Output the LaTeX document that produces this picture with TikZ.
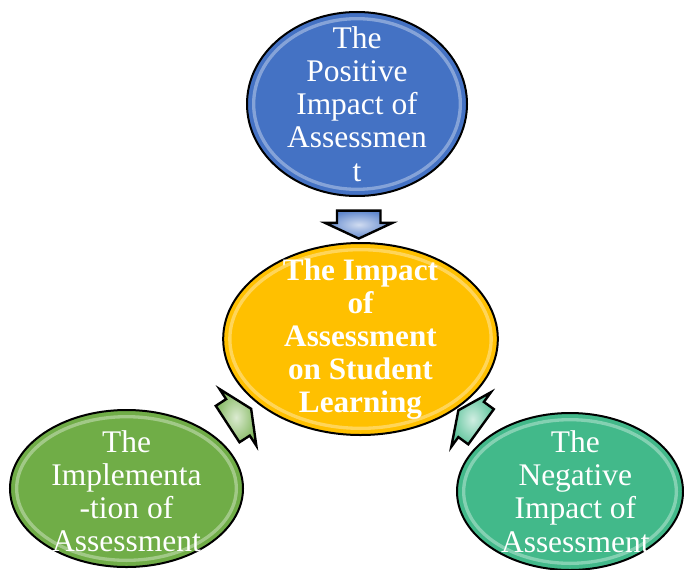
\documentclass[tikz,border=0pt]{standalone}
\usepackage{fontspec}
\setmainfont{Liberation Serif}
\usetikzlibrary{positioning, shapes.geometric, shapes.arrows, calc}
\definecolor{posblue}{RGB}{68, 114, 196}
\definecolor{coreyellow}{RGB}{255, 192, 0}
\definecolor{implgreen}{RGB}{112, 173, 71}
\definecolor{negteal}{RGB}{66, 185, 138}

\begin{document}
\begin{tikzpicture}[
    x=0.75pt, y=0.75pt,
    bubble/.style={
        ellipse,
        draw=black,
        line width=1.5pt,
        inner sep=0pt,
        path picture={
            \draw[white, opacity=0.35, line width=2.5pt]
                let \p1 = ($(path picture bounding box.north east)-(path picture bounding box.center)$)
                in (path picture bounding box.center) ellipse [x radius=\x1-5pt, y radius=\y1-5pt];
        }
    },
    bubbletext/.style={text=white, align=center, font=\fontsize{23.6pt}{24.9pt}\selectfont},
    corelabel/.style={bubbletext, font=\fontsize{23.4pt}{24.75pt}\selectfont\bfseries},
    blockarrow/.style={
        single arrow,
        draw=black,
        line width=1.8pt,
        inner xsep=0pt,
        inner ysep=15.4pt,
        minimum height=21pt,
        single arrow head extend=9pt,
        single arrow tip angle=130
    }
]
    \useasboundingbox (0,0) rectangle (684,569);

    % --- Bubbles ---
    \node[bubble, fill=posblue, minimum width=165pt, minimum height=138pt] (pos) at (357,465) {};
    \node[bubble, fill=coreyellow, minimum width=206pt, minimum height=144pt] (core) at (360.5,230) {};
    \node[bubble, fill=implgreen, minimum width=174.75pt, minimum height=117.75pt] (impl) at (126.5,80.5) {};
    \node[bubble, fill=negteal, minimum width=169.5pt, minimum height=117.75pt] (neg) at (570,77.5) {};

    % --- Texts ---
    \node[bubbletext] at (pos) {The\\Positive\\Impact of\\Assessmen\\t};
    \node[corelabel] at (core) {The Impact\\of\\Assessment\\on Student\\Learning};
    \node[bubbletext, yshift=-2pt] at (impl) {The\\Implementa\\-tion of\\Assessment};
    \node[bubbletext, xshift=4pt] at (neg) {The\\Negative\\Impact of\\Assessment};

    % --- Arrows ---
    \node[blockarrow, outer color=posblue!85!white, inner color=posblue!25!white, rotate=-90]
        (arrpos) at ($(pos.south)!0.5!(core.north)$) {};
    \node[blockarrow, outer color=implgreen!85!white, inner color=implgreen!25!white, rotate=33]
        (arrimpl) at ($(impl.33)!0.5!(core.213)$) {};
    \node[blockarrow, outer color=negteal!85!white, inner color=negteal!25!white, rotate=144]
        (arrneg) at ($(neg.144)!0.5!(core.324)$) {};

\end{tikzpicture}
\end{document}
